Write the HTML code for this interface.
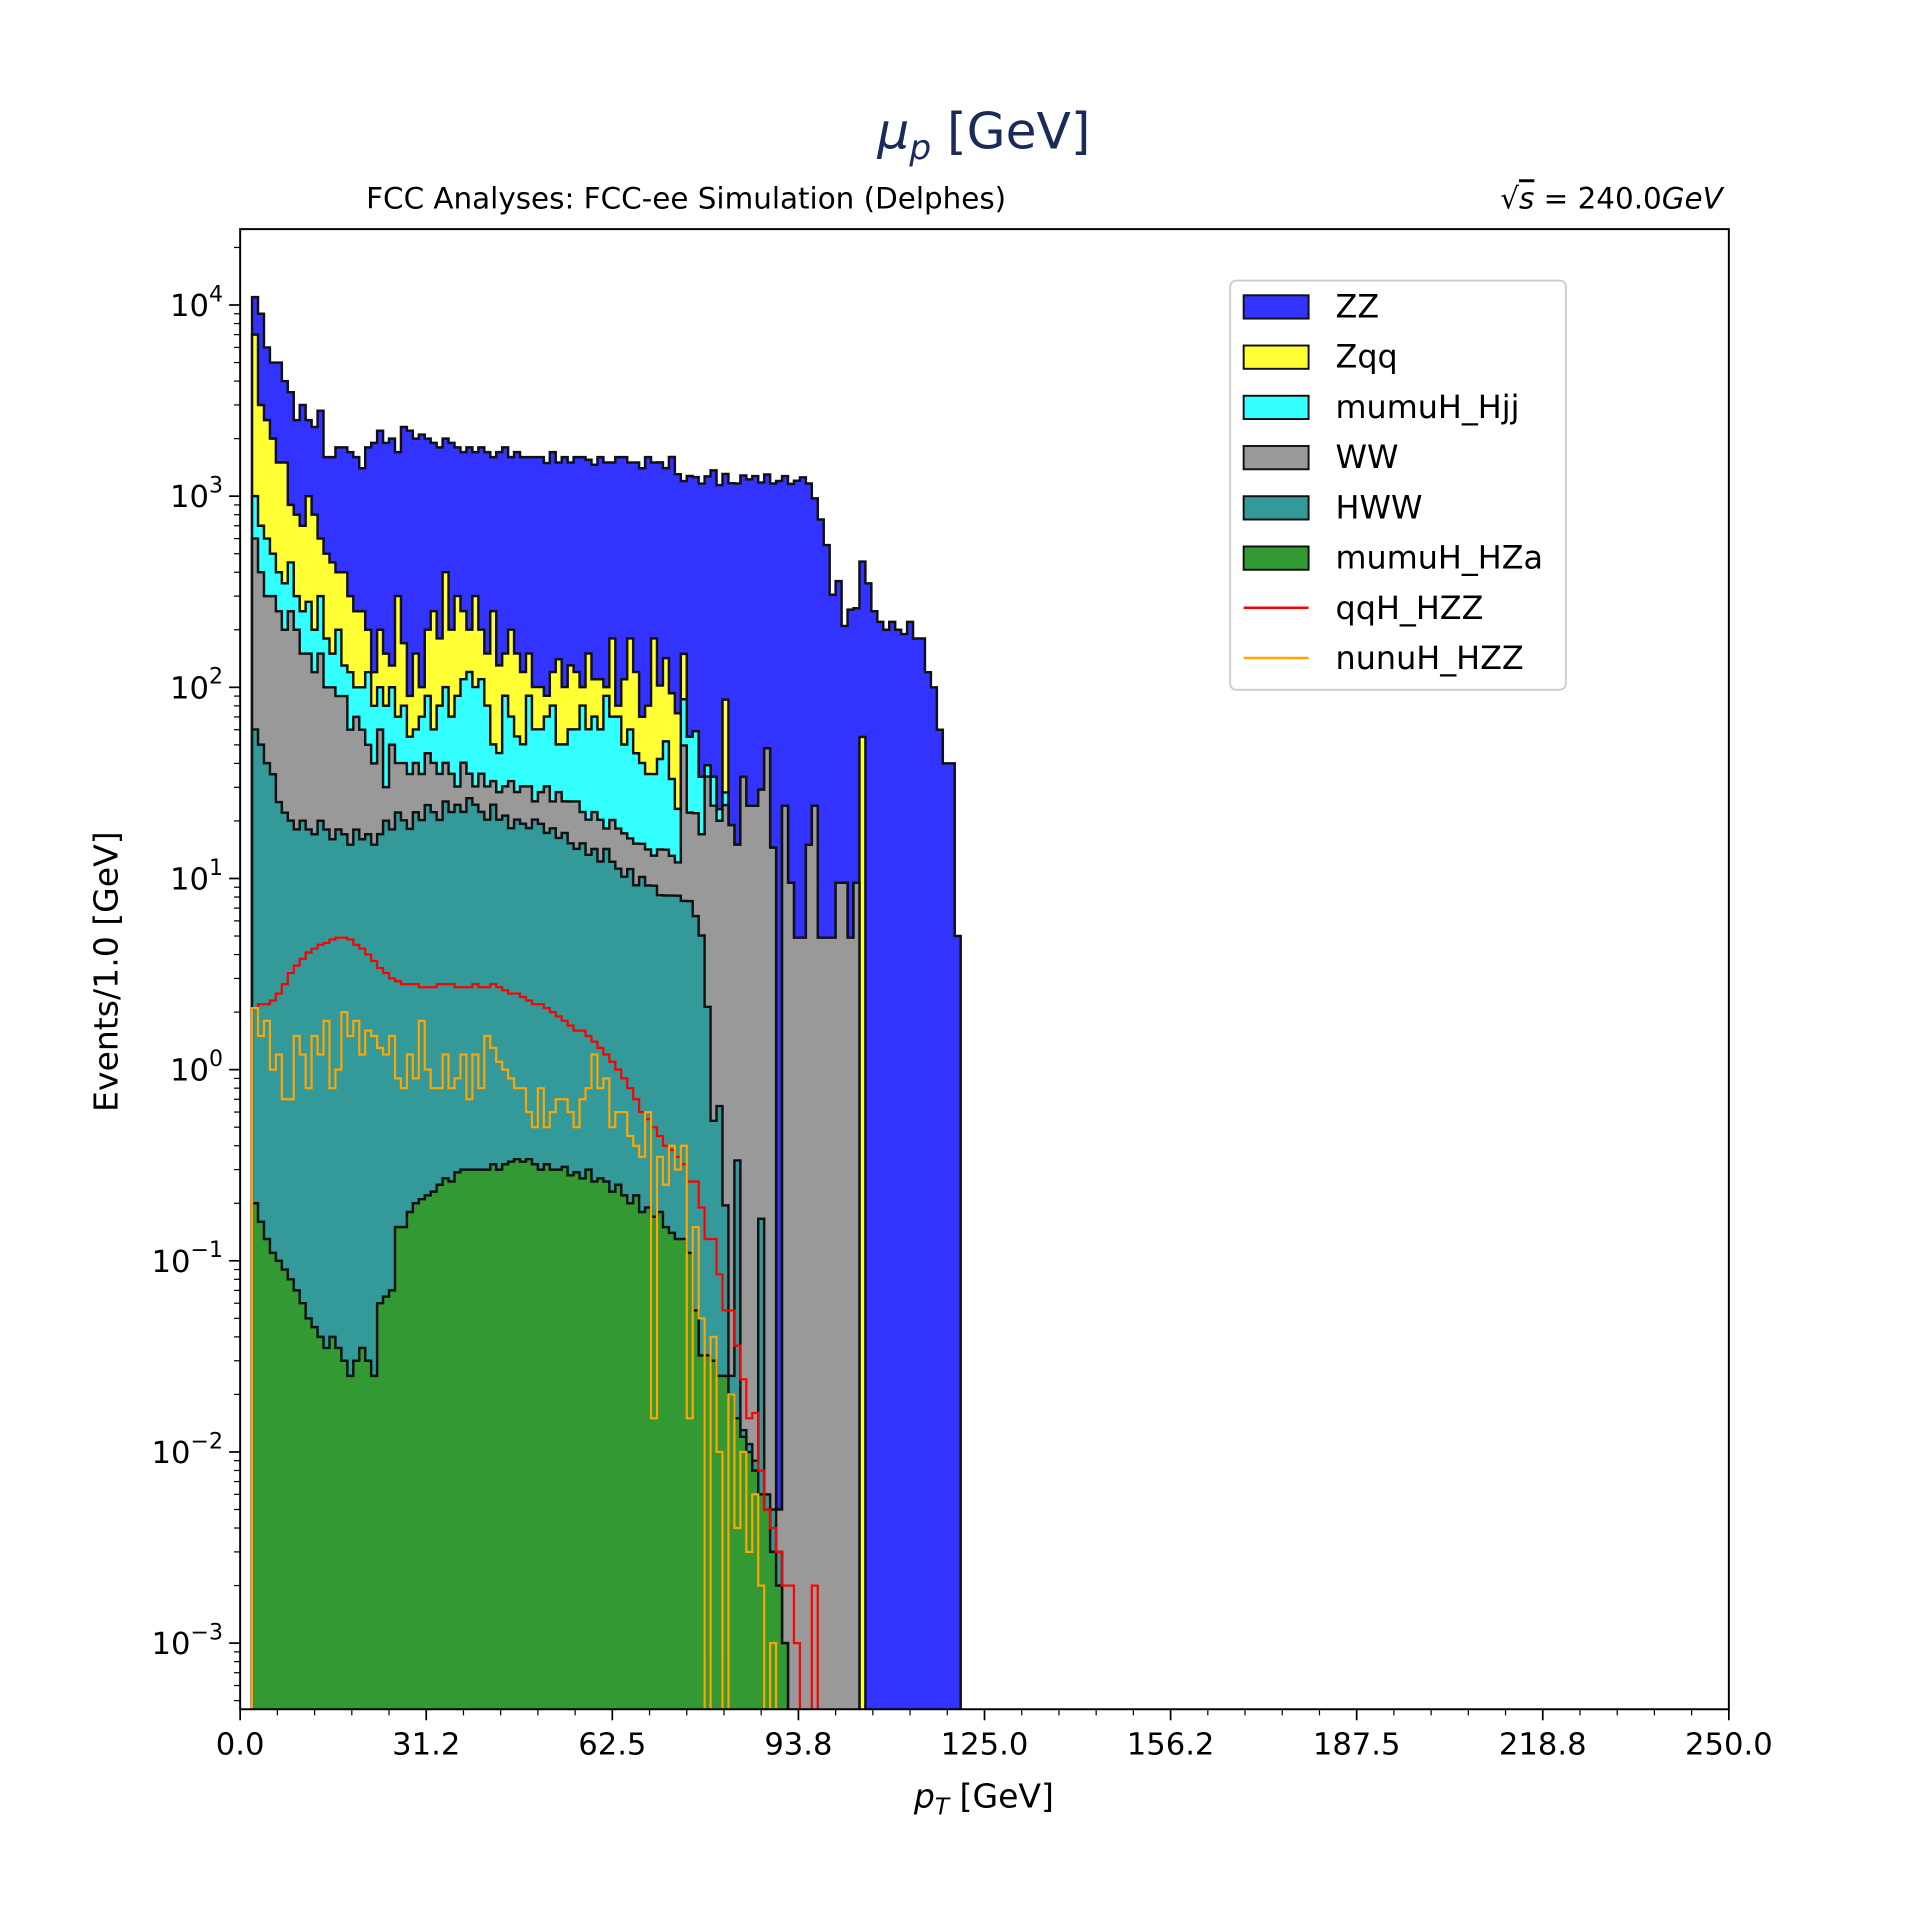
<!DOCTYPE html>
<html><head><meta charset="utf-8"><style>
html,body{margin:0;padding:0;background:#fff}
svg{display:block;font-family:"DejaVu Sans","Liberation Sans",sans-serif}
</style></head><body>
<svg id="chart" width="1920" height="1920" viewBox="0 0 1567 1567" xmlns="http://www.w3.org/2000/svg">
<defs><clipPath id="plotclip"><rect x="196" y="187" width="1215" height="1208"/></clipPath></defs>
<rect x="0" y="0" width="1567" height="1567" fill="#fff"/>
<text x="803" y="121" text-anchor="middle" font-size="41" fill="#1a2a5a"><tspan font-style="italic">μ</tspan><tspan font-style="italic" font-size="28" dy="9">p</tspan><tspan dy="-9"> [GeV]</tspan></text>
<text x="560" y="170" text-anchor="middle" font-size="24">FCC Analyses: FCC-ee Simulation (Delphes)</text>
<text x="1406" y="170" text-anchor="end" font-size="24"><tspan>√</tspan><tspan font-style="italic" text-decoration="overline">s</tspan><tspan> = 240.0</tspan><tspan font-style="italic">GeV</tspan></text>
<g id="bars" clip-path="url(#plotclip)"></g>
<g id="lines" clip-path="url(#plotclip)"></g>
<rect x="196" y="187" width="1215" height="1208" fill="none" stroke="#000" stroke-width="1.6"/>
<g id="axes"></g>
<text transform="translate(96,793) rotate(-90)" text-anchor="middle" font-size="27">Events/1.0 [GeV]</text>
<text x="803" y="1475" text-anchor="middle" font-size="27"><tspan font-style="italic">p</tspan><tspan font-style="italic" font-size="19" dy="6">T</tspan><tspan dy="-6"> [GeV]</tspan></text>
<g id="legend">
<rect x="1004" y="229" width="274" height="334" rx="5" fill="#fff" stroke="#ccc" stroke-width="1.5"/>
</g>
</svg>
<script>
const binStart = 0;
const binWidth = 1;
const mumuH_HZa = [0,0,0.2,0.16,0.13,0.11,0.1,0.09,0.08,0.07,0.06,0.05,0.045,0.04,0.035,0.04,0.035,0.03,0.025,0.03,0.035,0.03,0.025,0.06,0.065,0.07,0.15,0.15,0.18,0.2,0.21,0.22,0.23,0.25,0.27,0.26,0.29,0.3,0.3,0.3,0.3,0.3,0.32,0.3,0.32,0.33,0.34,0.33,0.34,0.32,0.3,0.32,0.3,0.3,0.31,0.28,0.29,0.27,0.3,0.26,0.27,0.26,0.23,0.25,0.22,0.2,0.22,0.18,0.19,0.17,0.18,0.15,0.14,0.13,
 0.13,0.11,0.055,0.032,0.032,0.03,0.025,0.025,0.02,0.015,0.012,0.01,0.008,0.006,0.005,0.003,0.002,0.001];
const HWW = [0,0,60,50,40,35,25,22,20,18,20,18,17,20,18,16,18,17,15,18,16,17,15,17,20,18,22,20,18,22,20,24,22,20,25,22,24,22,26,24,22,20,24,20,21,18,20,19,18,20,19,17,18,16,17,15,14,15,13,14,12,14,12,11,10,11,9,10,9,9,8,8,8,8,
 7.5,7.5,6.3,5,2.1,0.51,0.62,0.17,0.005,0.32,0.001,0.001,0.001,0.16,0.001,0.002,0.001];
const WW = [0,0,540,350,260,265,225,178,230,182,130,132,103,130,82,84,72,73,45,52,44,33,25,43,10,32,18,20,17,18,15,21,18,15,15,13,6,18,9,6,13,10,8,8,9,14,8,11,12,5,9,13,7,12,8,10,11,7,7,8,8,4,8,7,7,5,6,5,5,4,6,6,5,4,
 42,14.5,15.6,12,32,23.5,19.4,24,19,14.7,34,24,24,29,48,14.5,0.002,24,9.5,4.9,4.9,15,24,4.9,4.9,4.9,9.5,9.5,4.9,9.5];
const mumuH_Hjj = [0,0,400,300,300,200,150,150,200,100,100,130,80,150,80,50,110,40,60,30,40,70,40,40,50,50,30,40,20,20,35,45,20,45,60,35,60,70,85,70,75,50,18,17,60,38,27,20,60,35,32,40,55,22,25,35,35,58,40,48,40,72,50,52,33,44,30,25,21,22,28,38,20,11,
 37,33,37,17,5,10,3,4];
const Zqq = [0,0,6000,2300,1900,1500,1100,1150,450,500,450,720,600,300,320,300,200,270,180,150,150,80,40,100,70,30,230,90,35,90,30,110,190,100,300,130,210,140,80,200,90,70,200,85,60,130,95,70,60,40,40,20,40,90,50,70,60,20,90,40,50,10,110,10,60,120,75,30,45,145,60,90,60,50,
 63,0,0,0,0,0,0,58,0,0,0,0,0,0,0,0,0,0,0,0,0,0,0,0,0,0,0,0,0,0,55];
const ZZ = [0,0,4000,6000,3500,3000,3500,2500,2600,1700,2300,1500,1500,2200,1100,1150,1400,1400,1400,1350,1150,1600,1780,2000,1750,1870,1400,2130,2110,1850,2000,1800,1650,1620,1600,1700,1500,1450,1600,1400,1600,1550,1350,1570,1650,1400,1550,1480,1450,1500,1500,1400,1580,1360,1500,1370,1480,1500,1400,1350,1490,1400,1320,1520,1490,1320,1380,1330,1520,1320,1400,1260,1510,1230,1050,1220,1200,1130,1230,1330,1120,1220,1150,1150,1250,1200,1250,1150,1250,1150,1200,1250,1150,1200,1250,1150,950,750,550,300,350,200,250,250,400,350,250,220,200,220,200,190,220,180,180,120,100,60,40,40,5];
const qqH_HZZ = [0,0,2.1,2.2,2.2,2.3,2.5,2.8,3.2,3.5,3.8,4.1,4.3,4.5,4.6,4.8,4.9,4.9,4.8,4.5,4.3,4,3.7,3.4,3.2,3,2.9,2.8,2.8,2.8,2.7,2.7,2.7,2.8,2.8,2.8,2.7,2.7,2.7,2.8,2.7,2.7,2.8,2.7,2.6,2.5,2.5,2.4,2.3,2.2,2.2,2.1,2.0,1.9,1.8,1.7,1.6,1.6,1.5,1.4,1.3,1.2,1.1,1.0,0.9,0.8,0.7,0.6,0.55,0.5,0.45,0.4,0.38,0.35,
 0.32,0.26,0.26,0.19,0.13,0.13,0.085,0.055,0.055,0.036,0.024,0.015,0.016,0.008,0.005,0.004,0.003,0.002,0.002,0.001,0,0,0.002];
const nunuH_HZZ = [0,0,2.1,1.5,1.8,1,1.2,0.7,0.7,1.5,1.2,0.8,1.5,1.2,1.8,0.8,1,2,1.5,1.8,1.2,1.6,1.5,1.3,1.2,1.5,0.9,0.8,1.2,0.9,1.8,1,0.8,0.8,1.2,0.8,0.9,1.2,0.7,1.2,0.8,1.5,1.3,1.1,1,0.9,0.8,0.8,0.6,0.5,0.8,0.5,0.6,0.7,0.7,0.6,0.5,0.7,0.8,1.2,0.8,0.9,0.5,0.6,0.6,0.45,0.4,0.35,0.6,0.015,0.35,0.25,0.4,0.3,
 0.4,0.015,0.15,0.05,0,0.04,0.01,0,0.02,0.004,0.01,0.003,0.006,0.002,0,0.001];
const xTickValues = [0,31.25,62.5,93.75,125,156.25,187.5,218.75,250];
const xTickLabels = ["0.0","31.2","62.5","93.8","125.0","156.2","187.5","218.8","250.0"];
const yDecades = [-3,-2,-1,0,1,2,3,4];
const legendNames = ["ZZ","Zqq","mumuH_Hjj","WW","HWW","mumuH_HZa","qqH_HZZ","nunuH_HZZ"];

const NS = "http://www.w3.org/2000/svg";
const X0=196, X1=1411, Y0=187, Y1=1395;
const XMIN=0, XMAX=250, LMIN=-3.346, LMAX=4.397;
function xs(v){return X0+(v-XMIN)/(XMAX-XMIN)*(X1-X0);}
function ys(v){ if(!(v>0)) return Y1+5; const l=Math.log10(v); return Y1-(l-LMIN)/(LMAX-LMIN)*(Y1-Y0);}
function mk(tag,attrs,parent){const e=document.createElementNS(NS,tag);for(const k in attrs)e.setAttribute(k,attrs[k]);parent.appendChild(e);return e;}

const layers=[
 {vals:mumuH_HZa,color:"#339933",dn:"stack-mumuh-hza"},
 {vals:HWW,color:"#339999",dn:"stack-hww"},
 {vals:WW,color:"#999999",dn:"stack-ww"},
 {vals:mumuH_Hjj,color:"#33ffff",dn:"stack-mumuh-hjj"},
 {vals:Zqq,color:"#ffff33",dn:"stack-zqq"},
 {vals:ZZ,color:"#3333ff",dn:"stack-zz"}];
const NB=122;
let cum=new Array(NB).fill(0);
const tops=[];
layers.forEach(L=>{cum=cum.map((c,i)=>c+(L.vals[i]||0));tops.push(cum.slice());});
function stepPath(arr,closed){
  let d=`M${xs(binStart)},${Y1+5}`;
  for(let i=0;i<NB;i++){
    const a=binStart+i*binWidth,b=a+binWidth,y=ys(arr[i]||0);
    d+=`L${xs(a)},${y}L${xs(b)},${y}`;
  }
  d+=`L${xs(binStart+NB*binWidth)},${Y1+5}`;
  if(closed)d+="Z";
  return d;
}
const bars=document.getElementById("bars");
for(let k=layers.length-1;k>=0;k--){
  const p=mk("path",{d:stepPath(tops[k],true),fill:layers[k].color,stroke:"#111","stroke-width":2},bars);
  
  
}
const lines=document.getElementById("lines");
const l1=mk("path",{d:stepPath(qqH_HZZ,false),fill:"none",stroke:"#ff0000","stroke-width":1.8},lines);


const l2=mk("path",{d:stepPath(nunuH_HZZ,false),fill:"none",stroke:"#ffa500","stroke-width":1.8},lines);



const axes=document.getElementById("axes");
xTickValues.forEach((v,i)=>{
  const x=xs(v);
  const t=mk("line",{x1:x,x2:x,y1:Y1,y2:Y1+9,stroke:"#000","stroke-width":1.4},axes);
  
  
  const lb=mk("text",{x:x,y:Y1+37,"text-anchor":"middle","font-size":25},axes);
  lb.textContent=xTickLabels[i];
  
  
});
for(let v=6.25;v<250;v+=6.25){
  if(Math.abs(v/31.25-Math.round(v/31.25))<1e-6)continue;
  const x=xs(v);
  const t=mk("line",{x1:x,x2:x,y1:Y1,y2:Y1+5,stroke:"#000","stroke-width":1},axes);
  
  
}
yDecades.forEach(d=>{
  const y=ys(Math.pow(10,d));
  const t=mk("line",{x1:X0-9,x2:X0,y1:y,y2:y,stroke:"#000","stroke-width":1.4},axes);
  
  
  const lb=mk("text",{x:X0-14,y:y+9,"text-anchor":"end","font-size":25},axes);
  
  
  const a=document.createElementNS(NS,"tspan");a.textContent="10";lb.appendChild(a);
  const b=document.createElementNS(NS,"tspan");b.setAttribute("dy","-12");b.setAttribute("font-size","18");b.textContent=(d<0?"\u2212":"")+Math.abs(d);lb.appendChild(b);
});
for(let d=-4;d<=4;d++){for(let m=2;m<=9;m++){
  const v=m*Math.pow(10,d),y=ys(v);
  if(y<Y0||y>Y1)continue;
  const t=mk("line",{x1:X0-5,x2:X0,y1:y,y2:y,stroke:"#000","stroke-width":1},axes);
  
  
}}
const legend=document.getElementById("legend");
const legColors=["#3333ff","#ffff33","#33ffff","#999999","#339999","#339933","#ff0000","#ffa500"];
legendNames.forEach((n,i)=>{
  const y=250+i*41;
  const g=mk("g",{},legend);
  
  
  if(i<6){mk("rect",{x:1015,y:y-9,width:53,height:19,fill:legColors[i],stroke:"#111","stroke-width":1.6},g);}
  else{mk("line",{x1:1015,x2:1068,y1:y,y2:y,stroke:legColors[i],"stroke-width":2},g);}
  const t=mk("text",{x:1090,y:y+9,"font-size":26},g);t.textContent=n;
});
</script>
</body></html>
